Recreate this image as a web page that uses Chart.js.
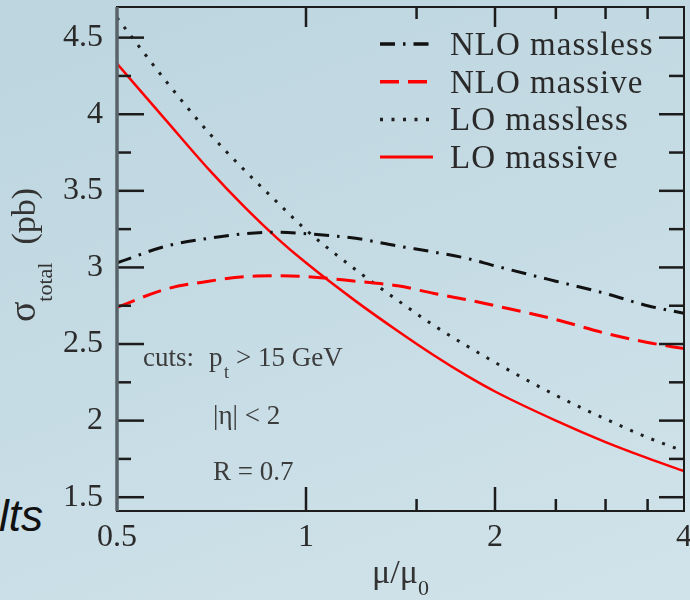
<!DOCTYPE html>
<html>
<head>
<meta charset="utf-8">
<title>Total cross section vs scale</title>
<script src="https://cdn.jsdelivr.net/npm/chart.js@4.4.1/dist/chart.umd.min.js"></script>
<style>
  html, body { margin: 0; padding: 0; }
  body {
    width: 690px;
    height: 600px;
    overflow: hidden;
    position: relative;
    background: linear-gradient(160deg, #bcd5df 0%, #c6dce5 50%, #d1e3ea 100%);
  }
  #slideText {
    position: absolute;
    left: -1px;
    top: 494px;
    font: italic 44px "Liberation Sans", Arial, sans-serif;
    line-height: 1;
    color: #111;
  }
  canvas { position: absolute; left: 0; top: 0; }
</style>
</head>
<body>
<div id="slideText">lts</div>
<canvas id="xsecChart" width="690" height="600"></canvas>
<script>
// renormalisation scale ratio mu/mu0 (log axis)
const muValues = [0.5, 0.6, 0.7, 0.8, 0.9, 1, 1.2, 1.4, 1.6, 1.8, 2, 2.5, 3, 3.5, 4];

// sigma_total in pb
const nloMassless = [3.03, 3.14, 3.19, 3.22, 3.23, 3.22, 3.19, 3.14, 3.10, 3.06, 3.01, 2.91, 2.83, 2.75, 2.70];
const nloMassive = [2.74, 2.86, 2.91, 2.94, 2.945, 2.94, 2.91, 2.88, 2.83, 2.79, 2.75, 2.66, 2.57, 2.51, 2.47];
const loMassless = [4.63, 4.21, 3.88, 3.63, 3.425, 3.245, 2.985, 2.785, 2.62, 2.49, 2.38, 2.165, 2.01, 1.89, 1.80];
const loMassive = [4.33, 3.955, 3.64, 3.39, 3.19, 3.03, 2.78, 2.585, 2.425, 2.295, 2.19, 2.00, 1.86, 1.755, 1.67];

const seriesLabels = ["NLO massless", "NLO massive", "LO massless", "LO massive"];

// axis ticks
const xMajor = [0.5, 1, 2, 4];
const xMinor = [1.5, 2.5, 3, 3.5];
const yMajor = [1.5, 2, 2.5, 3, 3.5, 4, 4.5];
const yMinor = [1.75, 2.25, 2.75, 3.25, 3.75, 4.25];

const cutLines = ["cuts:", "|η| < 2", "R = 0.7"];

const SERIF = "'Liberation Serif', 'Times New Roman', serif";

const toPoints = (vals) => muValues.map((mu, i) => ({ x: mu, y: vals[i] }));

// inward tick marks on all four sides plus the box
const framePlugin = {
  id: "frame",
  afterDatasetsDraw(chart) {
    const { ctx, chartArea: a, scales } = chart;
    const xs = scales.x;
    const ys = scales.y;
    const tick = (px, py, dx, dy) => {
      ctx.beginPath();
      ctx.moveTo(px, py);
      ctx.lineTo(px + dx, py + dy);
      ctx.stroke();
    };

    ctx.save();
    ctx.strokeStyle = "#1c1c1c";
    ctx.lineWidth = 2.5;
    yMajor.forEach((v) => {
      const py = ys.getPixelForValue(v);
      tick(a.left, py, 27, 0);
      tick(a.right, py, -25, 0);
    });
    yMinor.forEach((v) => {
      const py = ys.getPixelForValue(v);
      tick(a.left, py, 14, 0);
      tick(a.right, py, -15, 0);
    });
    xMajor.forEach((v) => {
      if (v === xs.min || v === xs.max) return;
      const px = xs.getPixelForValue(v);
      tick(px, a.bottom, 0, -24);
      tick(px, a.top, 0, 20);
    });
    xMinor.forEach((v) => {
      const px = xs.getPixelForValue(v);
      tick(px, a.bottom, 0, -12);
      tick(px, a.top, 0, 12);
    });

    ctx.lineWidth = 2;
    ctx.strokeRect(a.left, a.top, a.right - a.left, a.bottom - a.top);
    ctx.strokeStyle = "#59636a";
    ctx.lineWidth = 3.5;
    tick(a.left, a.top, 0, a.bottom - a.top);
    ctx.restore();
  },
};

// key, cut annotations and axis titles
const labelsPlugin = {
  id: "labels",
  afterDraw(chart) {
    const { ctx, chartArea: a } = chart;
    ctx.save();

    // key in the top right corner
    ctx.font = `33px ${SERIF}`;
    ctx.letterSpacing = "1px";
    ctx.textBaseline = "alphabetic";
    chart.data.datasets.forEach((ds, i) => {
      const base = a.top + 48 + i * 37.7;
      ctx.strokeStyle = ds.borderColor;
      ctx.lineWidth = ds.borderWidth + 0.5;
      ctx.lineCap = ds.borderCapStyle || "butt";
      ctx.setLineDash(ds.borderDash || []);
      ctx.beginPath();
      ctx.moveTo(a.right - 304, base - 11);
      ctx.lineTo(a.right - 251, base - 11);
      ctx.stroke();
      ctx.fillStyle = "#2a2a2a";
      ctx.fillText(ds.label, a.right - 234, base);
    });
    ctx.setLineDash([]);
    ctx.letterSpacing = "0px";

    // cuts
    ctx.fillStyle = "#3c3c3c";
    ctx.font = `27px ${SERIF}`;
    ctx.fillText(cutLines[0], a.left + 26, 366);
    ctx.fillText("p", a.left + 92, 366);
    ctx.font = `18px ${SERIF}`;
    ctx.fillText("t", a.left + 107, 378);
    ctx.font = `27px ${SERIF}`;
    ctx.fillText("> 15 GeV", a.left + 119, 366);
    ctx.fillText(cutLines[1], a.left + 96, 424);
    ctx.fillText(cutLines[2], a.left + 96, 480);

    // x title: mu / mu_0
    ctx.fillStyle = "#333";
    const cx = (a.left + a.right) / 2;
    ctx.font = `34px ${SERIF}`;
    const mainW = ctx.measureText("μ/μ").width;
    ctx.font = `22px ${SERIF}`;
    const subW = ctx.measureText("0").width;
    const x = cx - (mainW + subW) / 2;
    ctx.font = `34px ${SERIF}`;
    ctx.fillText("μ/μ", x, 583);
    ctx.font = `22px ${SERIF}`;
    ctx.fillText("0", x + mainW, 595);

    // y title: sigma_total (pb), rotated
    ctx.font = `38px ${SERIF}`;
    const sigW = ctx.measureText("σ").width;
    ctx.font = `22px ${SERIF}`;
    const totW = ctx.measureText("total").width;
    ctx.font = `34px ${SERIF}`;
    const pbW = ctx.measureText("(pb)").width;
    const gap = 18;
    const len = sigW + totW + gap + pbW;
    const cy = (a.top + a.bottom) / 2 - 4;
    ctx.translate(35, cy + len / 2);
    ctx.rotate(-Math.PI / 2);
    ctx.font = `38px ${SERIF}`;
    ctx.fillText("σ", 0, 0);
    ctx.font = `22px ${SERIF}`;
    ctx.fillText("total", sigW, 17);
    ctx.font = `34px ${SERIF}`;
    ctx.fillText("(pb)", sigW + totW + gap, 0);

    ctx.restore();
  },
};

const ctx = document.getElementById("xsecChart").getContext("2d");
const chart = new Chart(ctx, {
  type: "line",
  data: {
    datasets: [
      {
        label: seriesLabels[0],
        data: toPoints(nloMassless),
        borderColor: "#111",
        borderWidth: 3,
        borderDash: [15, 8, 2.5, 8],
      },
      {
        label: seriesLabels[1],
        data: toPoints(nloMassive),
        borderColor: "#ff0000",
        borderWidth: 3,
        borderDash: [19, 9],
      },
      {
        label: seriesLabels[2],
        data: toPoints(loMassless),
        borderColor: "#1e1e1e",
        borderWidth: 3,
        borderDash: [3, 8.5],
      },
      {
        label: seriesLabels[3],
        data: toPoints(loMassive),
        borderColor: "#ff0000",
        borderWidth: 2.5,
      },
    ],
  },
  options: {
    responsive: false,
    animation: false,
    layout: { padding: { top: 7, right: 6, left: 0, bottom: 0 } },
    elements: {
      point: { radius: 0 },
      line: { tension: 0.4, cubicInterpolationMode: "monotone", fill: false },
    },
    plugins: {
      legend: { display: false },
      tooltip: { enabled: false },
    },
    scales: {
      x: {
        type: "logarithmic",
        min: 0.5,
        max: 4,
        grid: { display: false, drawTicks: false },
        border: { display: false },
        afterBuildTicks: (s) => {
          s.ticks = xMajor.map((v) => ({ value: v }));
        },
        afterFit: (s) => {
          s.height = 89;
          s.paddingLeft = 0;
          s.paddingRight = 0;
        },
        ticks: {
          autoSkip: false,
          maxRotation: 0,
          padding: 7,
          color: "#2a2a2a",
          font: { family: SERIF, size: 32 },
          callback: (v) => String(v),
        },
      },
      y: {
        type: "linear",
        min: 1.41,
        max: 4.7,
        grid: { display: false, drawTicks: false },
        border: { display: false },
        afterBuildTicks: (s) => {
          s.ticks = yMajor.map((v) => ({ value: v }));
        },
        afterFit: (s) => {
          s.width = 117;
          s.paddingTop = 0;
          s.paddingBottom = 0;
        },
        ticks: {
          padding: 14,
          color: "#2a2a2a",
          font: { family: SERIF, size: 32 },
          callback: (v) => String(v),
        },
      },
    },
  },
  plugins: [framePlugin, labelsPlugin],
});
</script>
</body>
</html>
